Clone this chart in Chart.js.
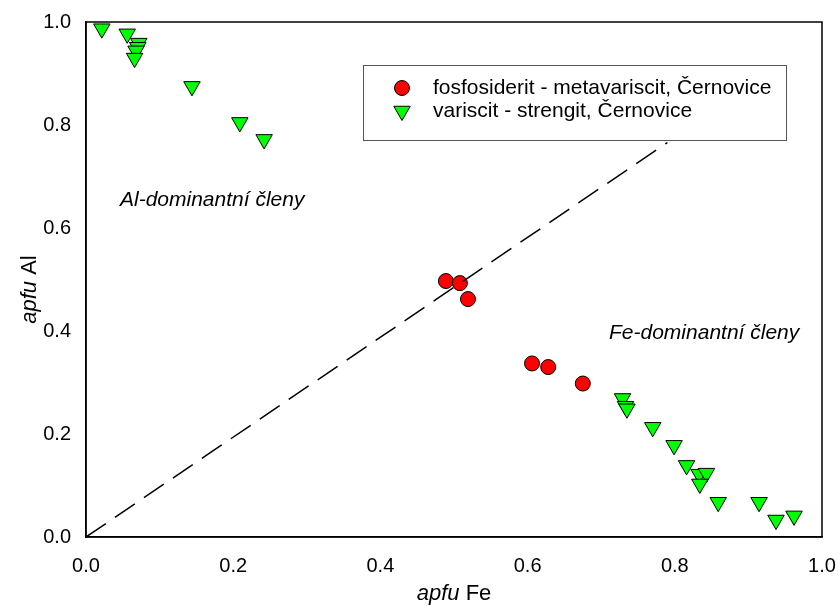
<!DOCTYPE html>
<html>
<head>
<meta charset="utf-8">
<script src="https://cdn.jsdelivr.net/npm/chart.js@4/dist/chart.umd.min.js"></script>
<style>
  html, body { margin: 0; padding: 0; background: #fff; }
  #wrap { width: 838px; height: 606px; }
</style>
</head>
<body>
<div id="wrap"><canvas id="chart"></canvas></div>
<script>
// fosfosiderit - metavariscit
const fosfoFe = [0.489, 0.508, 0.519, 0.606, 0.628, 0.675];
const fosfoAl = [0.497, 0.493, 0.462, 0.337, 0.330, 0.298];

// variscit - strengit
const varisFe = [0.0215, 0.056, 0.0717, 0.0703, 0.068, 0.066, 0.144, 0.209, 0.242,
  0.729, 0.733, 0.735, 0.770, 0.799, 0.816, 0.833, 0.843, 0.834, 0.859, 0.9145, 0.9375, 0.962];
const varisAl = [0.987, 0.977, 0.959, 0.951, 0.944, 0.930, 0.875, 0.805, 0.772,
  0.269, 0.254, 0.249, 0.213, 0.178, 0.139, 0.122, 0.124, 0.103, 0.0675, 0.0675, 0.033, 0.041];

// dashed reference line
const lineFe = [0, 0.79];
const lineAl = [0, 0.766];

const axisTicks = [0, 0.2, 0.4, 0.6, 0.8, 1.0];
const seriesLabels = ['fosfosiderit - metavariscit, Černovice', 'variscit - strengit, Černovice'];

const FONT = '"Liberation Sans", Arial, sans-serif';

function pts(xs, ys) {
  return xs.map((x, i) => ({ x: x, y: ys[i] }));
}

// frame, axis titles, notes and the boxed legend
const decor = {
  id: 'decor',
  afterDatasetsDraw(chart) {
    const ctx = chart.ctx;
    const a = chart.chartArea;
    ctx.save();
    ctx.strokeStyle = '#000';
    ctx.lineWidth = 1.5;
    ctx.strokeRect(a.left, a.top, a.right - a.left, a.bottom - a.top);

    ctx.fillStyle = '#000';
    ctx.textBaseline = 'middle';
    // notes
    ctx.font = 'italic 21px ' + FONT;
    ctx.textAlign = 'left';
    ctx.fillText('Al-dominantní členy', 120, 200);
    ctx.fillText('Fe-dominantní členy', 609, 333);

    // x title
    const cx = (a.left + a.right) / 2;
    ctx.font = 'italic 22px ' + FONT;
    const w1 = ctx.measureText('apfu ').width;
    ctx.font = '22px ' + FONT;
    const w2 = ctx.measureText('Fe').width;
    let x0 = cx - (w1 + w2) / 2;
    ctx.font = 'italic 22px ' + FONT;
    ctx.fillText('apfu ', x0, 594);
    ctx.font = '22px ' + FONT;
    ctx.fillText('Fe', x0 + w1, 594);

    // y title
    ctx.translate(30, (a.top + a.bottom) / 2 + 10);
    ctx.rotate(-Math.PI / 2);
    ctx.font = 'italic 22px ' + FONT;
    const v1 = ctx.measureText('apfu ').width;
    ctx.font = '22px ' + FONT;
    const v2 = ctx.measureText('Al').width;
    x0 = -(v1 + v2) / 2;
    ctx.font = 'italic 22px ' + FONT;
    ctx.fillText('apfu ', x0, 0);
    ctx.font = '22px ' + FONT;
    ctx.fillText('Al', x0 + v1, 0);
    ctx.setTransform(1, 0, 0, 1, 0, 0);

    // legend box
    ctx.fillStyle = '#fff';
    ctx.fillRect(363, 65, 423, 75);
    ctx.strokeStyle = '#555';
    ctx.lineWidth = 1;
    ctx.strokeRect(363.5, 65.5, 423, 75);
    const rows = [88, 111];
    [1, 2].forEach((di, k) => {
      const ds = chart.data.datasets[di];
      ctx.lineWidth = 1;
      ctx.strokeStyle = '#000';
      ctx.fillStyle = ds.backgroundColor;
      Chart.helpers.drawPoint(ctx, {
        pointStyle: ds.pointStyle,
        rotation: ds.pointRotation || 0,
        radius: ds.pointRadius,
        borderWidth: 1
      }, 402, rows[k]);
      ctx.fillStyle = '#000';
      ctx.font = '21px ' + FONT;
      ctx.textAlign = 'left';
      ctx.fillText(ds.label, 433, rows[k]);
    });
    ctx.restore();
  }
};

const chart = new Chart(document.getElementById('chart'), {
  type: 'scatter',
  data: {
    datasets: [
      {
        label: 'line',
        type: 'line',
        data: pts(lineFe, lineAl),
        borderColor: '#000',
        borderWidth: 1.5,
        borderDash: [24, 11],
        pointRadius: 0,
        fill: false
      },
      {
        label: seriesLabels[0],
        data: pts(fosfoFe, fosfoAl),
        pointStyle: 'circle',
        pointRadius: 7.5,
        backgroundColor: '#ff0000',
        borderColor: '#000',
        borderWidth: 1
      },
      {
        label: seriesLabels[1],
        data: pts(varisFe, varisAl),
        pointStyle: 'triangle',
        pointRotation: 180,
        pointRadius: 9.5,
        backgroundColor: '#00ff00',
        borderColor: '#000',
        borderWidth: 1
      }
    ]
  },
  options: {
    responsive: true,
    maintainAspectRatio: false,
    animation: false,
    layout: { padding: { top: 22, right: 16, left: 0, bottom: 0 } },
    plugins: {
      legend: { display: false },
      tooltip: { enabled: false }
    },
    scales: {
      x: {
        type: 'linear',
        min: 0, max: 1,
        afterBuildTicks: s => { s.ticks = axisTicks.map(v => ({ value: v })); },
        afterFit: s => { s.height = 69; s.paddingLeft = 0; s.paddingRight = 0; },
        grid: { display: false, drawTicks: true, tickLength: 8, tickColor: '#000' },
        border: { color: '#000', width: 1.5 },
        ticks: {
          color: '#000', padding: 9,
          font: { family: FONT, size: 20 },
          callback: v => v.toFixed(1)
        }
      },
      y: {
        type: 'linear',
        min: 0, max: 1,
        afterBuildTicks: s => { s.ticks = axisTicks.map(v => ({ value: v })); },
        afterFit: s => { s.width = 86; s.paddingTop = 0; s.paddingBottom = 0; },
        grid: { display: false, drawTicks: true, tickLength: 8, tickColor: '#000' },
        border: { color: '#000', width: 1.5 },
        ticks: {
          color: '#000', padding: 7,
          font: { family: FONT, size: 20 },
          callback: v => v.toFixed(1)
        }
      }
    }
  },
  plugins: [decor]
});
</script>
</body>
</html>
